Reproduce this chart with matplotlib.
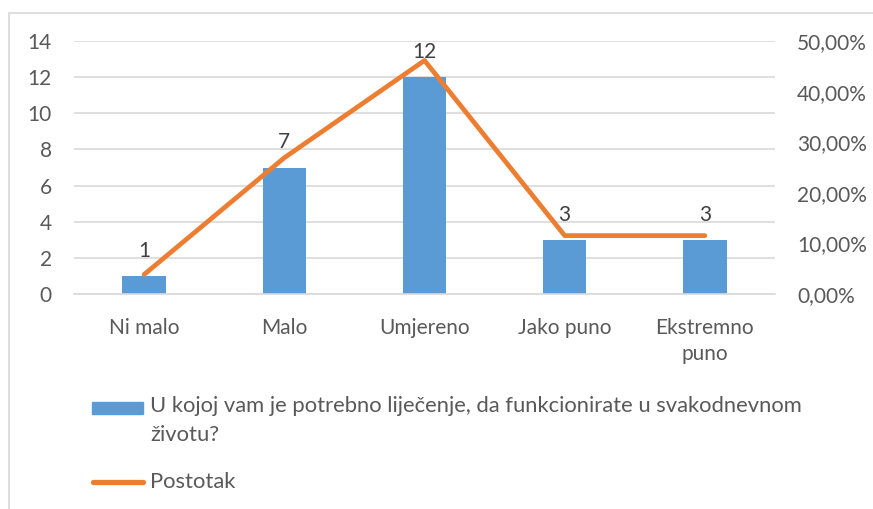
import matplotlib
matplotlib.use("Agg")
import matplotlib.pyplot as plt
from matplotlib.patches import Rectangle
from matplotlib.lines import Line2D
from matplotlib.ticker import FuncFormatter

# data
categories = ["Ni malo", "Malo", "Umjereno", "Jako puno", "Ekstremno\npuno"]
counts = [1, 7, 12, 3, 3]
percent = [3.85, 26.92, 46.15, 11.54, 11.54]
bar_label = "U kojoj vam je potrebno liječenje, da funkcionirate u svakodnevnom\nživotu?"
line_label = "Postotak"

blue = "#5B9BD5"
orange = "#ED7D31"
grid_c = "#D9D9D9"
txt_c = "#595959"
FS = 15

plt.rcParams['font.family'] = ['Lato', 'DejaVu Sans']

W, H = 873, 509
fig = plt.figure(figsize=(W / 100, H / 100), dpi=100)

def fx(px):
    return px / W

def fy(py):
    return 1 - py / H

# outer chart border (cut off at right/bottom like the screenshot)
fig.add_artist(Rectangle((fx(9), fy(530)), fx(900), fy(13) - fy(530),
                         transform=fig.transFigure, fill=False,
                         edgecolor=grid_c, linewidth=1.2))

ax = fig.add_axes([fx(74), fy(294), fx(775) - fx(74), fy(41) - fy(294)])
x = list(range(len(categories)))
ax.bar(x, counts, width=0.31, color=blue, zorder=2)
ax.set_ylim(0, 14)
ax.set_yticks(range(0, 15, 2))
ax.set_xlim(-0.5, len(categories) - 0.5)
ax.set_xticks(x)
ax.set_xticklabels(categories, fontsize=FS, color=txt_c, linespacing=1.38)
ax.tick_params(axis='both', length=0, labelsize=FS, colors=txt_c)
ax.tick_params(axis='x', pad=17)
ax.tick_params(axis='y', pad=16)
ax.grid(True, axis='y', color=grid_c, linewidth=1.2, zorder=0)
ax.set_axisbelow(True)
for s in ["top", "right", "left"]:
    ax.spines[s].set_visible(False)
ax.spines["bottom"].set_color(grid_c)
ax.spines["bottom"].set_linewidth(1.2)

for xi, c in zip(x, counts):
    ax.annotate(str(c), (xi, c), xytext=(0, 18), textcoords="offset points",
                ha="center", va="center", fontsize=FS, color="#404040", zorder=5)

ax2 = ax.twinx()
ax2.plot(x, percent, color=orange, linewidth=3.4, solid_capstyle="round",
         solid_joinstyle="round", zorder=4)
ax2.set_ylim(0, 50)
ax2.set_yticks(range(0, 51, 10))
ax2.yaxis.set_major_formatter(FuncFormatter(lambda v, p: f"{v:.2f}".replace(".", ",") + "%"))
ax2.tick_params(axis='y', length=0, labelsize=FS, colors=txt_c, pad=16)
for s in ax2.spines.values():
    s.set_visible(False)

# legend drawn by hand to match the layout
fig.add_artist(Rectangle((fx(92), fy(414)), fx(51), fy(402) - fy(414),
                         transform=fig.transFigure, color=blue))
fig.text(fx(150), fy(396), bar_label, fontsize=15.8, color=txt_c,
         va="top", ha="left", linespacing=1.55)
fig.add_artist(Line2D([fx(93), fx(143)], [fy(482), fy(482)], transform=fig.transFigure,
                      color=orange, linewidth=3.8, solid_capstyle="round"))
fig.text(fx(150), fy(482), line_label, fontsize=15.8, color=txt_c, va="center", ha="left")

fig.savefig("out.png", dpi=100)
